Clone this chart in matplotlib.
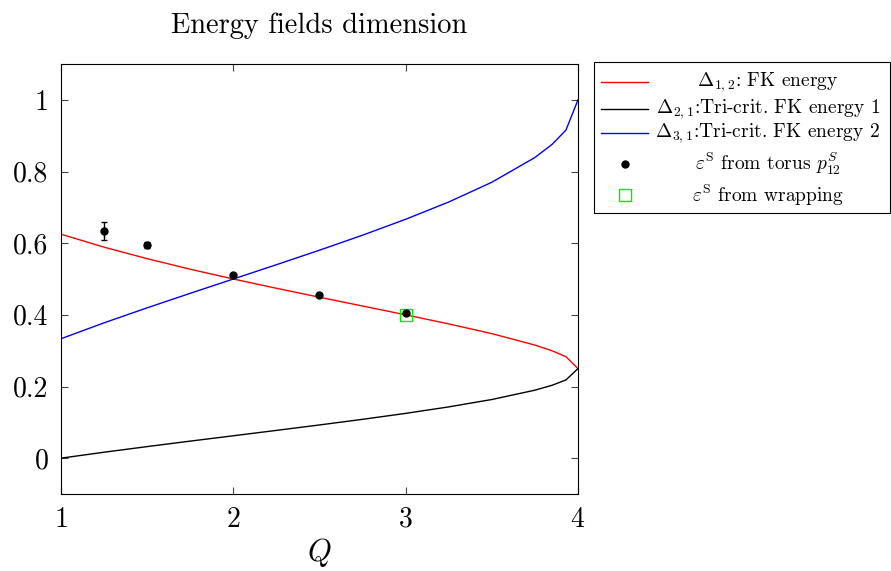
import matplotlib
matplotlib.use("Agg")
import matplotlib.pyplot as plt
from matplotlib.lines import Line2D
from matplotlib.patches import Rectangle

plt.rcParams['font.family'] = 'cmr10'
plt.rcParams['mathtext.fontset'] = 'cm'
plt.rcParams['axes.unicode_minus'] = False
plt.rcParams['axes.formatter.use_mathtext'] = True

# Curves sampled in Q
Q = [1.0, 1.25, 1.5, 1.75, 2.0, 2.25, 2.5, 2.75, 3.0, 3.25, 3.5, 3.75, 3.85, 3.93, 4.0]
fk_energy = [0.625, 0.5888, 0.5567, 0.5273, 0.5, 0.4741, 0.4491, 0.4246, 0.4,
             0.3747, 0.3475, 0.3156, 0.2996, 0.2831, 0.25]
tricrit1 = [0.0, 0.0166, 0.0323, 0.0476, 0.0625, 0.0775, 0.0927, 0.1084, 0.125,
            0.1431, 0.1637, 0.1897, 0.2035, 0.2183, 0.25]
tricrit2 = [0.3333, 0.3777, 0.4196, 0.4601, 0.5, 0.5399, 0.5804, 0.6223, 0.6667,
            0.7149, 0.7700, 0.8391, 0.8759, 0.9155, 1.0]

# Numerical data
torus_Q = [1.25, 1.5, 2.0, 2.5, 3.0]
torus_val = [0.635, 0.595, 0.510, 0.456, 0.404]
torus_err = [0.025, 0.008, 0.0, 0.0, 0.0]
wrap_Q = [3.0]
wrap_val = [0.400]

labels = [r'$\Delta_{1,2}$: FK energy',
          r'$\Delta_{2,1}$:Tri-crit. FK energy 1',
          r'$\Delta_{3,1}$:Tri-crit. FK energy 2',
          r'$\varepsilon^{\rm S}$ from torus $p_{12}^{S}$',
          r'$\varepsilon^{\rm S}$ from wrapping']

W, H = 891, 571
fig = plt.figure(figsize=(W / 100, H / 100), dpi=100)
ax = fig.add_axes([61 / W, 1 - 494 / H, (578 - 61) / W, (494 - 64) / H])

ax.plot(Q, fk_energy, color='red', lw=1.0)
ax.plot(Q, tricrit1, color='black', lw=1.0)
ax.plot(Q, tricrit2, color='blue', lw=1.0)
ax.errorbar(torus_Q, torus_val, yerr=torus_err, fmt='o', color='black', ms=5,
            capsize=2.5, elinewidth=1.0, capthick=1.0)
ax.plot(wrap_Q, wrap_val, 's', mfc='none', mec='#00ee00', ms=8, mew=1.0)

ax.set_xlim(1, 4)
ax.set_ylim(-0.1, 1.1)
ax.set_xticks([1, 2, 3, 4])
ax.set_yticks([0, 0.2, 0.4, 0.6, 0.8, 1.0])
ax.set_yticklabels(['0', '0.2', '0.4', '0.6', '0.8', '1'])
ax.tick_params(direction='in', top=True, right=True, labelsize=20, length=5,
               pad=9, color='#444444')
for s in ax.spines.values():
    s.set_linewidth(0.8)

ax.set_title('Energy fields dimension', fontsize=20.5, pad=22)
ax.set_xlabel(r'$Q$', fontsize=22, labelpad=2)

# Legend (pgfplots style: handle at left, centred text)
def fx(x):
    return x / W

def fy(y):
    return 1 - y / H

fig.add_artist(Rectangle((fx(594), fy(213)), fx(890) - fx(594), fy(62) - fy(213),
                         transform=fig.transFigure, fill=False, ec='black', lw=0.8))
rows = [82, 109, 133, 164, 195]
handles = [('line', 'red'), ('line', 'black'), ('line', 'blue'),
           ('dot', 'black'), ('sq', '#00ee00')]
for (kind, c), ry, lab in zip(handles, rows, labels):
    if kind == 'line':
        fig.add_artist(Line2D([fx(601), fx(648)], [fy(ry), fy(ry)],
                              transform=fig.transFigure, color=c, lw=1.0))
    elif kind == 'dot':
        fig.add_artist(Line2D([fx(625)], [fy(ry)], transform=fig.transFigure,
                              marker='o', ms=5, color=c, ls='none'))
    else:
        fig.add_artist(Line2D([fx(625)], [fy(ry)], transform=fig.transFigure,
                              marker='s', ms=8, mfc='none', mec=c, mew=1.0, ls='none'))
    fig.text(fx(768), fy(ry), lab, ha='center', va='center', fontsize=14)

fig.savefig('out.png', dpi=100)
